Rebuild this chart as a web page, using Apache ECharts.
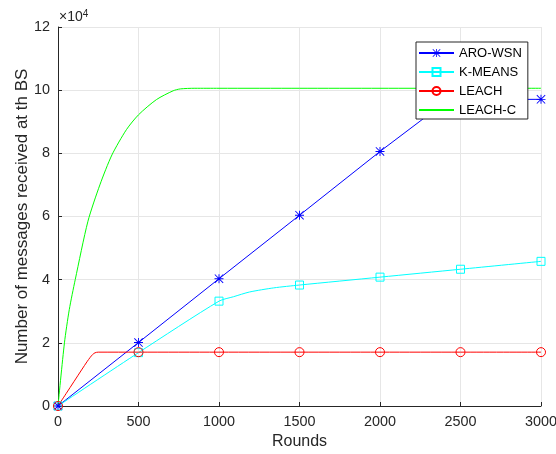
<!DOCTYPE html>
<html>
<head>
<meta charset="utf-8">
<script src="https://cdn.jsdelivr.net/npm/echarts@6/dist/echarts.min.js"></script>
<style>
html,body{margin:0;padding:0;background:#fff;}
#chart{width:556px;height:454px;}
</style>
</head>
<body>
<div id="chart"></div>
<script>
// ---- data (values in messages; axis shows ×10^4) ----
const xTicks = [0, 500, 1000, 1500, 2000, 2500, 3000];
const yTicks = [0, 2, 4, 6, 8, 10, 12];
const seriesNames = ['ARO-WSN', 'K-MEANS', 'LEACH', 'LEACH-C'];

const aroRounds = [0, 500, 1000, 1500, 2000, 2270, 2400, 2500, 3000];
const aroValues = [0, 20100, 40300, 60400, 80600, 91000, 95800, 97000, 97100];

const kmRounds = [0, 500, 1000, 1090, 1190, 1340, 1500, 2000, 2500, 3000];
const kmValues = [0, 16900, 33200, 34600, 36100, 37400, 38300, 40800, 43300, 45800];

const leachRounds = [0, 50, 100, 150, 180, 200, 215, 230, 250, 500, 1000, 1500, 2000, 2500, 3000];
const leachValues = [0, 3900, 7800, 11700, 14000, 15400, 16300, 16850, 17050, 17050, 17050, 17050, 17050, 17050, 17050];

const leachCRounds = [0, 40, 70, 107, 186, 260, 335, 425, 500, 611, 715, 760, 850, 1000, 1500, 2000, 2500, 3000];
const leachCValues = [0, 20000, 30500, 40000, 58500, 70000, 79500, 87500, 92200, 97000, 99800, 100400, 100600, 100600, 100600, 100600, 100600, 100600];

const markerStep = 500;

// ---- helpers ----
function build(rounds, values, withMarkers) {
  return rounds.map((r, i) => {
    const item = { value: [r, values[i]] };
    if (!withMarkers || r % markerStep !== 0) item.symbol = 'none';
    return item;
  });
}

const asterisk = 'path://M4.5 0 H5.5 V10 H4.5 Z M0 4.5 H10 V5.5 H0 Z M0.7 0 L10 9.3 L9.3 10 L0 0.7 Z M9.3 0 L10 0.7 L0.7 10 L0 9.3 Z';

const axisColor = '#262626';
const gridColor = '#e6e6e6';
const font = '"Liberation Sans", Arial, Helvetica, sans-serif';

const chart = echarts.init(document.getElementById('chart'), null, { renderer: 'canvas' });

chart.setOption({
  animation: false,
  backgroundColor: '#fff',
  grid: { left: 58, right: 15, top: 27, bottom: 48, containLabel: false, outerBoundsMode: 'none' },
  xAxis: {
    type: 'value',
    min: xTicks[0], max: xTicks[xTicks.length - 1], interval: 500,
    name: 'Rounds', nameLocation: 'middle', nameGap: 28, nameMoveOverlap: false,
    nameTextStyle: { color: axisColor, fontSize: 16, fontFamily: font },
    axisLine: { show: true, lineStyle: { color: axisColor, width: 1 } },
    axisTick: { show: true, inside: true, length: 4, lineStyle: { color: axisColor } },
    axisLabel: { color: axisColor, fontSize: 14.4, fontFamily: font, margin: 9, formatter: v => String(v) },
    splitLine: { show: true, lineStyle: { color: gridColor, width: 1 } }
  },
  yAxis: {
    type: 'value',
    min: yTicks[0] * 1e4, max: yTicks[yTicks.length - 1] * 1e4, interval: 20000,
    name: 'Number of messages received at th BS', nameLocation: 'middle', nameGap: 27, nameMoveOverlap: false,
    nameTextStyle: { color: axisColor, fontSize: 17, fontFamily: font },
    axisLine: { show: true, lineStyle: { color: axisColor, width: 1 } },
    axisTick: { show: true, inside: true, length: 4, lineStyle: { color: axisColor } },
    axisLabel: { color: axisColor, fontSize: 14.4, fontFamily: font, margin: 8, formatter: v => String(v / 1e4) },
    splitLine: { show: true, lineStyle: { color: gridColor, width: 1 } }
  },
  legend: {
    orient: 'vertical',
    left: 416, top: 42,
    padding: [4, 6, 2, 2],
    itemGap: 5,
    itemWidth: 35, itemHeight: 10,
    backgroundColor: '#fff',
    borderColor: axisColor, borderWidth: 1, borderRadius: 0,
    textStyle: { color: '#000', fontSize: 13, fontFamily: font, lineHeight: 14 },
    data: [
      { name: seriesNames[0] },
      { name: seriesNames[1] },
      { name: seriesNames[2] },
      { name: seriesNames[3], itemStyle: { opacity: 0 } }
    ]
  },
  graphic: [{
    type: 'text', left: 59, top: 9,
    style: {
      text: '×10{s|4}',
      fill: axisColor, fontSize: 14, fontFamily: font,
      rich: { s: { fontSize: 10, verticalAlign: 'top', padding: [0, 0, 7, 0], fill: axisColor, fontFamily: font } }
    }
  }],
  series: [
    {
      name: seriesNames[0], type: 'line', data: build(aroRounds, aroValues, true),
      symbol: asterisk, symbolSize: 9, showAllSymbol: true,
      lineStyle: { color: '#0000ff', width: 1 },
      itemStyle: { color: '#0000ff', borderWidth: 0 }
    },
    {
      name: seriesNames[1], type: 'line', data: build(kmRounds, kmValues, true),
      symbol: 'rect', symbolSize: 8, showAllSymbol: true, smooth: 0.25,
      lineStyle: { color: '#00ffff', width: 1 },
      itemStyle: { color: 'rgba(255,255,255,0)', borderColor: '#00ffff', borderWidth: 1 }
    },
    {
      name: seriesNames[2], type: 'line', data: build(leachRounds, leachValues, true),
      symbol: 'circle', symbolSize: 9, showAllSymbol: true, smooth: 0.3,
      lineStyle: { color: '#ff0000', width: 1 },
      itemStyle: { color: 'rgba(255,255,255,0)', borderColor: '#ff0000', borderWidth: 1 }
    },
    {
      name: seriesNames[3], type: 'line', data: build(leachCRounds, leachCValues, false),
      symbol: 'none', smooth: 0.25,
      lineStyle: { color: '#00ff00', width: 1 },
      itemStyle: { color: '#00ff00' }
    }
  ]
});
</script>
</body>
</html>
